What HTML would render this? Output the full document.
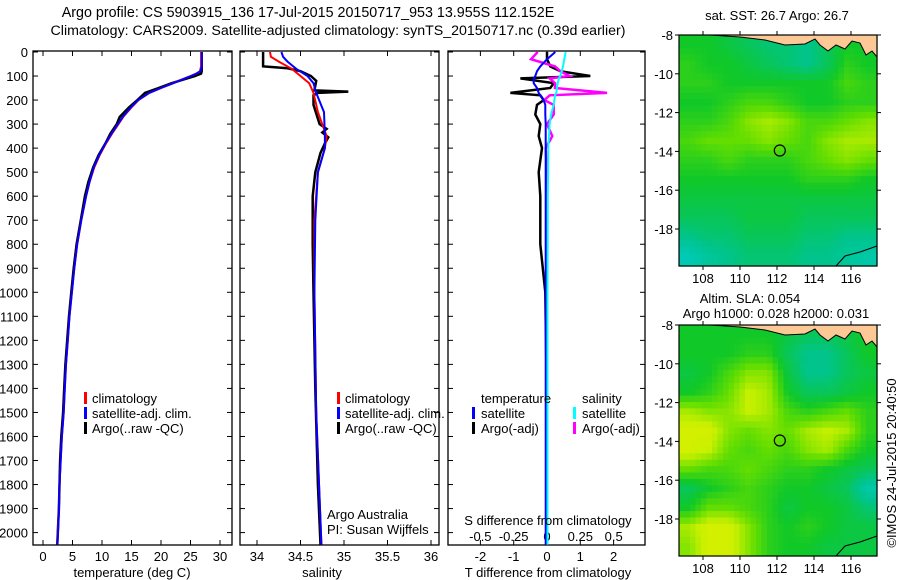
<!DOCTYPE html>
<html><head><meta charset="utf-8">
<style>
html,body{margin:0;padding:0;background:#fff;}
svg{display:block;font-family:"Liberation Sans",sans-serif;}
text{font-size:13px;fill:#000;}
</style></head>
<body>
<svg id="fig" width="900" height="580" viewBox="0 0 900 580">
<text x="308" y="17" text-anchor="middle" style="font-size:14.3px">Argo profile: CS 5903915_136 17-Jul-2015 20150717_953 13.955S 112.152E</text>
<text x="338" y="35" text-anchor="middle" style="font-size:14.2px">Climatology: CARS2009. Satellite-adjusted climatology: synTS_20150717.nc (0.39d earlier)</text>
<text x="777" y="20" text-anchor="middle">sat. SST: 26.7 Argo: 26.7</text>
<text x="750" y="303" text-anchor="middle">Altim. SLA: 0.054</text>
<text x="776" y="318" text-anchor="middle">Argo h1000: 0.028 h2000: 0.031</text>
<text transform="translate(896,463) rotate(-90)" text-anchor="middle">©IMOS 24-Jul-2015 20:40:50</text>
<g id="g"></g>
</svg>
<script>
// ---- profile data ----
const depthT = [0,60,80,90,100,115,130,150,170,200,230,270,300,340,380,430,480,540,600,700,800,900,1000,1100,1200,1300,1400,1500,1600,1700,1800,1900,2000,2050];
const tempClim = [26.8,26.8,26.6,26.0,25.0,23.5,22.0,20.0,18.0,16.2,15.0,13.6,12.8,11.7,10.7,9.6,8.7,7.9,7.3,6.5,5.8,5.3,4.9,4.5,4.2,3.9,3.7,3.5,3.2,3.0,2.8,2.7,2.5,2.4];
const tempSat  = [26.9,26.9,26.7,26.0,25.1,23.6,22.1,20.0,18.0,16.1,14.9,13.5,12.7,11.6,10.6,9.5,8.6,7.9,7.3,6.5,5.8,5.3,4.9,4.5,4.2,3.9,3.7,3.5,3.2,3.0,2.8,2.7,2.55,2.45];
const tempArgo = [26.9,26.9,26.9,26.8,25.8,23.8,21.8,19.6,17.3,16.0,14.6,13.0,12.5,11.4,10.6,9.4,8.5,7.7,7.1,6.4,5.7,5.2,4.8,4.4,4.1,3.8,3.6,3.4,3.1,2.9,2.8,2.7,2.5,2.4];

const depthS = [0,60,68,80,100,120,160,165,170,180,220,300,320,335,355,380,420,500,600,800,1000,1400,1800,2050];
const salArgo = [34.07,34.07,34.35,34.5,34.62,34.68,34.66,35.05,34.7,34.65,34.65,34.72,34.8,34.75,34.82,34.78,34.73,34.67,34.64,34.64,34.65,34.67,34.7,34.73];
const depthS2 = [0,20,40,70,100,130,170,250,350,400,500,700,1000,1500,2050];
const salClim = [34.15,34.16,34.25,34.4,34.5,34.6,34.65,34.7,34.8,34.78,34.7,34.66,34.66,34.68,34.74];
const salSat  = [34.28,34.3,34.35,34.45,34.58,34.65,34.68,34.77,34.78,34.78,34.7,34.67,34.66,34.68,34.74];

const depthD = [0,30,60,80,100,110,130,150,170,180,200,220,260,300,350,400,500,600,800,1000,1500,2000,2050];
const dTsat  = [0.25,0.0,-0.2,-0.3,-0.35,-0.4,-0.4,-0.3,-0.25,-0.2,-0.1,-0.05,-0.05,-0.04,-0.04,-0.04,-0.04,-0.04,-0.04,-0.04,-0.04,-0.04,-0.04];
const dSsat  = [0.14,0.13,0.12,0.11,0.10,0.09,0.08,0.075,0.07,0.06,0.055,0.05,0.03,0.02,0.015,0.01,0.008,0.006,0.005,0.004,0.004,0.004,0.004];
const dTargo = [0.0,0.0,0.1,0.4,1.3,-0.8,0.2,0.1,-1.1,-0.2,-0.1,-0.3,-0.35,-0.2,-0.25,-0.15,-0.25,-0.2,-0.2,-0.05,0.0,0.0,0.0];
const dSargo = [-0.07,-0.12,0.06,0.1,0.17,0.02,0.06,0.06,0.45,0.02,-0.02,0.05,0.05,0.0,0.04,-0.01,0.0,0.0,0.0,0.0,0.0,0.0,0.0];

const tTicks=[0,5,10,15,20,25,30];
const sTicks=[34,34.5,35,35.5,36];
const sLab=["34","34.5","35","35.5","36"];
const dTicks=[-2,-1,0,1,2];
const dsTicks=[-0.5,-0.25,0,0.25,0.5];
const dsLab=["-0.5","-0.25","0","0.25","0.5"];
const depthTicks=[0,100,200,300,400,500,600,700,800,900,1000,1100,1200,1300,1400,1500,1600,1700,1800,1900,2000];

// ---- map data (values 0 cyan .. 1 yellow) ----
const sstGrid=[
[0.5,0.5,0.45,0.4,0.35,0.35,0.3,0.4,0.5,0.5],
[0.55,0.5,0.5,0.45,0.4,0.35,0.3,0.4,0.55,0.5],
[0.55,0.55,0.5,0.5,0.5,0.5,0.5,0.5,0.6,0.55],
[0.5,0.5,0.55,0.6,0.6,0.55,0.5,0.5,0.55,0.55],
[0.55,0.55,0.6,0.7,0.75,0.7,0.6,0.6,0.65,0.7],
[0.6,0.65,0.65,0.65,0.7,0.65,0.6,0.7,0.75,0.75],
[0.55,0.55,0.6,0.55,0.55,0.55,0.6,0.65,0.7,0.65],
[0.5,0.5,0.5,0.5,0.5,0.5,0.55,0.55,0.55,0.5],
[0.45,0.45,0.45,0.45,0.45,0.45,0.45,0.45,0.45,0.45],
[0.4,0.4,0.4,0.45,0.45,0.45,0.4,0.4,0.4,0.4],
[0.3,0.35,0.35,0.4,0.4,0.4,0.35,0.35,0.3,0.3],
[0.15,0.25,0.3,0.35,0.35,0.35,0.3,0.3,0.25,0.2]];
const slaGrid=[
[0.5,0.5,0.5,0.5,0.5,0.45,0.4,0.4,0.45,0.5],
[0.5,0.5,0.5,0.55,0.55,0.4,0.3,0.3,0.4,0.5],
[0.45,0.5,0.6,0.7,0.7,0.45,0.3,0.3,0.4,0.45],
[0.5,0.55,0.65,0.8,0.75,0.5,0.4,0.4,0.45,0.5],
[0.75,0.7,0.7,0.8,0.75,0.6,0.55,0.6,0.65,0.55],
[0.85,0.85,0.7,0.65,0.7,0.65,0.75,0.8,0.75,0.55],
[0.85,0.8,0.65,0.6,0.65,0.6,0.7,0.75,0.6,0.5],
[0.65,0.6,0.6,0.65,0.6,0.55,0.55,0.5,0.45,0.4],
[0.4,0.5,0.55,0.6,0.55,0.5,0.5,0.45,0.4,0.2],
[0.5,0.65,0.65,0.6,0.55,0.45,0.5,0.5,0.45,0.35],
[0.75,0.85,0.85,0.7,0.55,0.5,0.55,0.5,0.45,0.45],
[0.7,0.85,0.85,0.7,0.55,0.5,0.5,0.45,0.45,0.45]];
const mapLonTicks=[108,110,112,114,116];
const mapLatTicks=[-8,-10,-12,-14,-16,-18];
const argoLon=112.152, argoLat=-13.955;

const NS="http://www.w3.org/2000/svg";
const G=document.getElementById('g');
function mk(tag,attrs,parent){const e=document.createElementNS(NS,tag);for(const k in attrs)e.setAttribute(k,attrs[k]);(parent||G).appendChild(e);return e;}

const yD=d=>52+d*0.2403;
const xT=t=>43+t*5.9;
const xS=s=>257+(s-34)*87;
const xDT=v=>547+v*33.3;
const xDS=v=>547+v*133.3;
const PB=545;

function frame(x0,x1,name){
  const r=mk('rect',{x:x0,y:51,width:x1-x0,height:PB-51,fill:'none',stroke:'#000','stroke-width':1.3});
  
  
  depthTicks.forEach(d=>{
    mk('line',{x1:x0,x2:x0+5,y1:yD(d),y2:yD(d),stroke:'#000'});
    mk('line',{x1:x1,x2:x1-5,y1:yD(d),y2:yD(d),stroke:'#000'});
  });
}
function xticks(vals,labs,fx,name){
  vals.forEach((v,i)=>{
    const x=fx(v);
    mk('line',{x1:x,x2:x,y1:51,y2:56,stroke:'#000'});
    mk('line',{x1:x,x2:x,y1:PB,y2:PB-5,stroke:'#000'});
    const t=mk('text',{x:x,y:561,'text-anchor':'middle'});t.textContent=labs[i];
    
    
  });
}
function line(ds,vs,fx,col,w,name){
  const p=ds.map((d,i)=>fx(vs[i]).toFixed(1)+','+yD(d).toFixed(1)).join(' ');
  const e=mk('polyline',{points:p,fill:'none',stroke:col,'stroke-width':w});
  
  
}
function label(x,y,s,name,anchor){
  const t=mk('text',{x:x,y:y,'text-anchor':anchor||'start'});t.textContent=s;
  
  
  return t;
}
function legMark(x,y,col,name){
  const e=mk('rect',{x:x,y:y-11,width:3,height:12,fill:col});
  
  
}

// panel 1
frame(33,232,'temperature-panel');
depthTicks.forEach(d=>{label(28,yD(d)+5,String(d),'depth-tick-label','end');});
xticks(tTicks,tTicks.map(String),xT,'temperature-tick-label');
line(depthT,tempArgo,xT,'#000',2.5,'temp-argo-line');
line(depthT,tempClim,xT,'#f00',2,'temp-clim-line');
line(depthT,tempSat,xT,'#00f',2,'temp-sat-line');
label(132,577,'temperature (deg C)','temperature-axis-title','middle');
legMark(84,403,'#f00','legend-clim-marker');label(92,403,'climatology','legend-climatology');
legMark(84,418,'#00f','legend-sat-marker');label(92,418,'satellite-adj. clim.','legend-satellite');
legMark(84,433,'#000','legend-argo-marker');label(92,433,'Argo(..raw -QC)','legend-argo');

// panel 2
frame(240,439,'salinity-panel');
xticks(sTicks,sLab,xS,'salinity-tick-label');
line(depthS,salArgo,xS,'#000',2.5,'sal-argo-line');
line(depthS2,salClim,xS,'#f00',2,'sal-clim-line');
line(depthS2,salSat,xS,'#00f',2,'sal-sat-line');
label(322,577,'salinity','salinity-axis-title','middle');
legMark(337,403,'#f00','legend-clim-marker');label(345,403,'climatology','legend-climatology');
legMark(337,418,'#00f','legend-sat-marker');label(345,418,'satellite-adj. clim.','legend-satellite');
legMark(337,433,'#000','legend-argo-marker');label(345,433,'Argo(..raw -QC)','legend-argo');
label(327,519,'Argo Australia','argo-australia-label');
label(327,534,'PI: Susan Wijffels','pi-label');

// panel 3
frame(448,645,'difference-panel');
xticks(dTicks,dTicks.map(String),xDT,'t-diff-tick-label');
dsTicks.forEach((v,i)=>{label(xDS(v),541,dsLab[i],'s-diff-tick-label','middle');});
line(depthD,dTargo,xDT,'#000',2.5,'t-diff-argo-line');
line(depthD,dSargo,xDS,'#f0f',2.5,'s-diff-argo-line');
line(depthD,dTsat,xDT,'#00f',2,'t-diff-sat-line');
line(depthD,dSsat,xDS,'#0ff',2,'s-diff-sat-line');
label(548,525,'S difference from climatology','s-diff-axis-title','middle');
label(548,577,'T difference from climatology','t-diff-axis-title','middle');
label(481,403,'temperature','legend-temperature-heading');
label(582,403,'salinity','legend-salinity-heading');
legMark(472,418,'#00f','legend-t-sat-marker');label(481,418,'satellite','legend-t-satellite');
legMark(472,433,'#000','legend-t-argo-marker');label(481,433,'Argo(-adj)','legend-t-argo');
legMark(573,418,'#0ff','legend-s-sat-marker');label(582,418,'satellite','legend-s-satellite');
legMark(573,433,'#f0f','legend-s-argo-marker');label(582,433,'Argo(-adj)','legend-s-argo');

// maps
function cmap(v){
  const stops=[[0,[0,208,224]],[0.3,[0,196,140]],[0.5,[16,200,40]],[0.65,[100,222,0]],[0.8,[200,240,0]],[1,[240,240,0]]];
  for(let i=1;i<stops.length;i++){if(v<=stops[i][0]){const a=stops[i-1],b=stops[i];const f=(v-a[0])/(b[0]-a[0]);
    return 'rgb('+a[1].map((c,j)=>Math.round(c+(b[1][j]-c)*f)).join(',')+')';}}
  return 'rgb(240,240,0)';
}
function drawMap(y0,grid,name,tickY){
  const x0=679,x1=877,y1=y0+231;
  const lonX=l=>703+(l-108)*18.5, latY=l=>y0+(-8-l)*19.4;
  const g=mk('g',{});
  
  
  const R=grid.length,C=grid[0].length,N=36,M=36;
  const cw=(x1-x0)/N,ch=(y1-y0)/M;
  for(let i=0;i<M;i++)for(let j=0;j<N;j++){
    const gy=(i+0.5)/M*R-0.5, gx=(j+0.5)/N*C-0.5;
    const r0=Math.max(0,Math.min(R-1,Math.floor(gy))),c0=Math.max(0,Math.min(C-1,Math.floor(gx)));
    const r1=Math.min(R-1,r0+1),c1=Math.min(C-1,c0+1);
    const fy=Math.max(0,Math.min(1,gy-r0)),fx=Math.max(0,Math.min(1,gx-c0));
    const v=grid[r0][c0]*(1-fx)*(1-fy)+grid[r0][c1]*fx*(1-fy)+grid[r1][c0]*(1-fx)*fy+grid[r1][c1]*fx*fy;
    mk('rect',{x:(x0+j*cw).toFixed(1),y:(y0+i*ch).toFixed(1),width:(cw+0.6).toFixed(1),height:(ch+0.6).toFixed(1),fill:cmap(v)},g);
  }
  // land
  const land=mk('path',{d:`M710 ${y0} L740 ${y0+2} L765 ${y0+5} L785 ${y0+10} L805 ${y0+9} L815 ${y0+4} L820 ${y0+10} L828 ${y0+16} L836 ${y0+10} L845 ${y0+14} L852 ${y0+6} L860 ${y0+8} L866 ${y0+20} L872 ${y0+16} L877 ${y0+22} L${x1} ${y0} Z`,fill:'#fcc896',stroke:'#000','stroke-width':1},g);
  
  
  mk('path',{d:`M836 ${y1} L845 ${y1-10} L860 ${y1-14} L877 ${y1-20}`,fill:'none',stroke:'#000','stroke-width':1},g);
  mk('rect',{x:x0,y:y0,width:x1-x0,height:y1-y0,fill:'none',stroke:'#000','stroke-width':1.2},g);
  const c=mk('circle',{cx:lonX(argoLon),cy:latY(argoLat),r:5.5,fill:'none',stroke:'#000','stroke-width':1.2},g);
  
  
  mapLonTicks.forEach(l=>{const x=lonX(l);mk('line',{x1:x,x2:x,y1:y0,y2:y0-4,stroke:'#000'},g);mk('line',{x1:x,x2:x,y1:y1,y2:y1+4,stroke:'#000'},g);
    label(x,tickY,String(l),'map-lon-tick-label','middle');});
  mapLatTicks.forEach(l=>{const y=latY(l);mk('line',{x1:x0,x2:x0-4,y1:y,y2:y,stroke:'#000'},g);mk('line',{x1:x1,x2:x1+4,y1:y,y2:y,stroke:'#000'},g);
    label(673,y+5,String(l),'map-lat-tick-label','end');});
}
drawMap(35,sstGrid,'sst-map',283);
drawMap(325,slaGrid,'sla-map',573);
</script>
</body></html>
